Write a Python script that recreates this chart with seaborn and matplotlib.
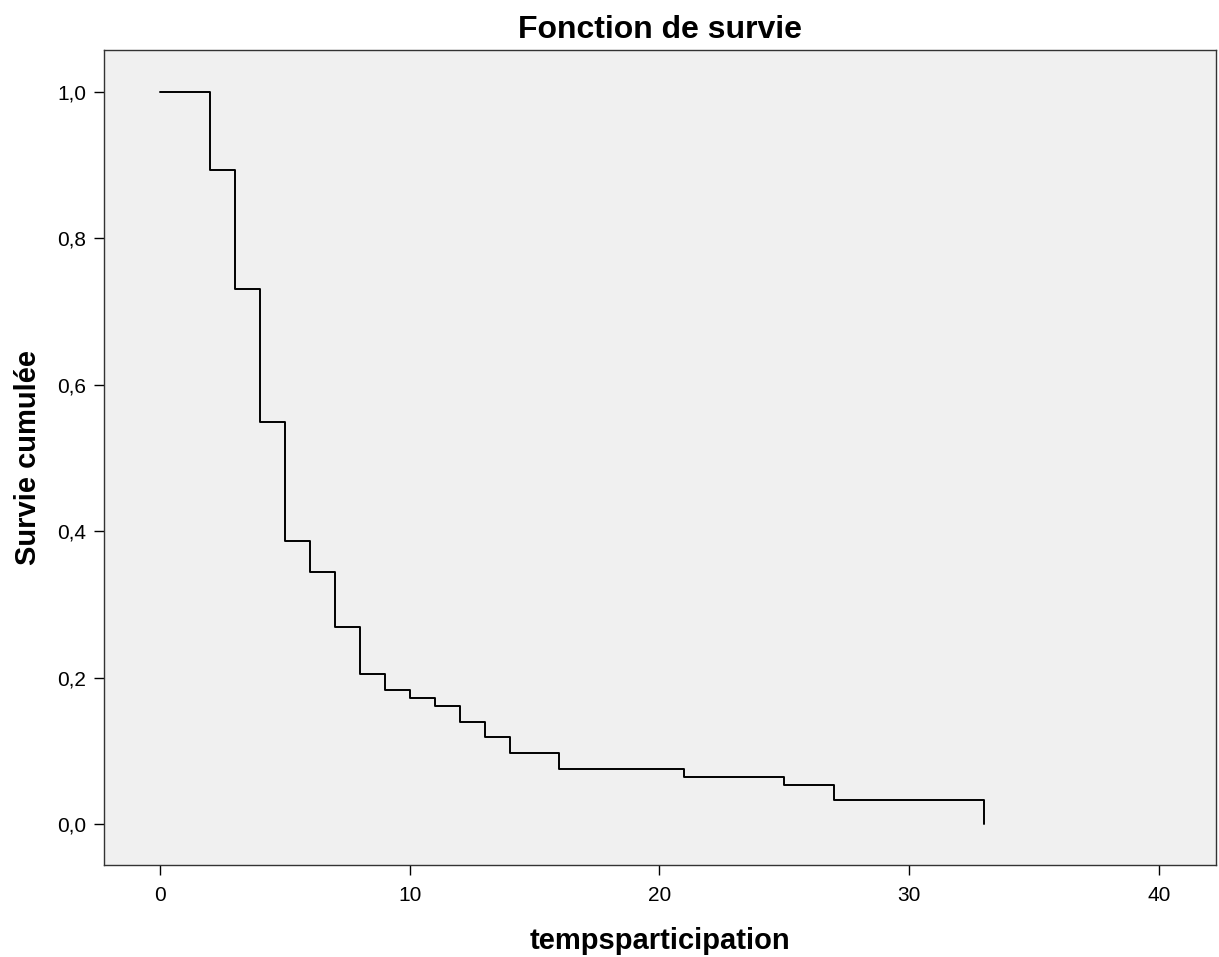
import matplotlib
matplotlib.use("Agg")
import matplotlib.pyplot as plt
import seaborn as sns
import pandas as pd

# Data (Kaplan-Meier survival steps)
times = [0, 2, 3, 4, 5, 6, 7, 8, 9, 10, 11, 12, 13, 14, 16, 21, 25, 27, 33]
survival = [1.0, 0.8925, 0.7312, 0.5484, 0.3871, 0.3441, 0.2688, 0.2043, 0.1828,
            0.1720, 0.1613, 0.1398, 0.1183, 0.0968, 0.0753, 0.0645, 0.0538, 0.0323, 0.0]
x_ticks = [0, 10, 20, 30, 40]
y_ticks = [0.0, 0.2, 0.4, 0.6, 0.8, 1.0]
y_tick_labels = ["0,0", "0,2", "0,4", "0,6", "0,8", "1,0"]

sns.set_theme(style="white")
plt.rcParams['font.family'] = ['Liberation Sans', 'DejaVu Sans']

W, H = 1219, 957
fig = plt.figure(figsize=(W / 100, H / 100), dpi=100)
left, right, top, bottom = 104, 1216, 50, 865
ax = fig.add_axes([left / W, 1 - bottom / H, (right - left) / W, (bottom - top) / H])
ax.set_facecolor("#f0f0f0")

df = pd.DataFrame({"tempsparticipation": times, "Survie cumulée": survival})
sns.lineplot(data=df, x="tempsparticipation", y="Survie cumulée", ax=ax,
             drawstyle="steps-post", color="black", linewidth=1.4, estimator=None)

ax.set_xlim(-2.24, 42.29)
ax.set_ylim(-0.056, 1.057)
ax.set_xticks(x_ticks)
ax.set_xticklabels([str(t) for t in x_ticks])
ax.set_yticks(y_ticks)
ax.set_yticklabels(y_tick_labels)

ax.tick_params(axis="both", which="major", direction="out", length=7, width=1,
               color="black", labelsize=15, labelcolor="black", bottom=True, left=True)
ax.tick_params(axis="x", pad=8)
ax.tick_params(axis="y", pad=6)

for side in ["left", "bottom", "top", "right"]:
    ax.spines[side].set_visible(True)
    ax.spines[side].set_color("#333333")
    ax.spines[side].set_linewidth(1.0)

ax.set_xlabel("tempsparticipation", fontsize=21, fontweight="bold", color="black", labelpad=16)
ax.set_ylabel("Survie cumulée", fontsize=21, fontweight="bold", color="black", labelpad=11)
ax.set_title("Fonction de survie", fontsize=23, fontweight="bold", color="black", pad=9)

fig.savefig("out.png", dpi=100, facecolor="white")
